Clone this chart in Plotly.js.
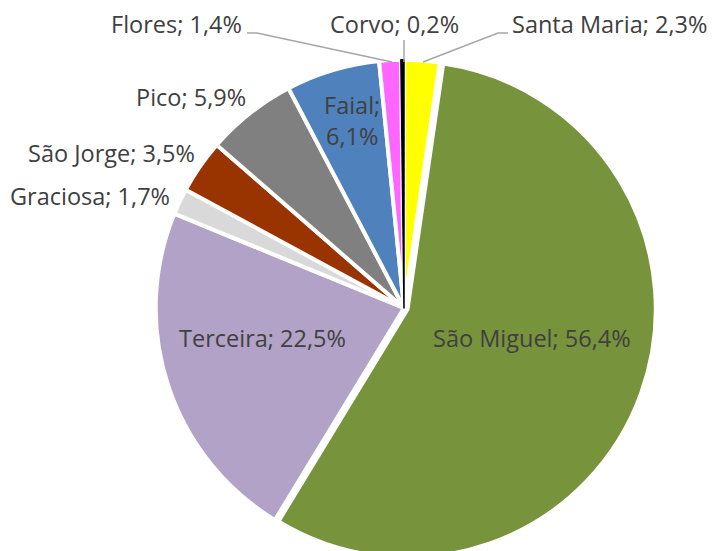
<!DOCTYPE html>
<html>
<head>
<meta charset="utf-8">
<script src="https://cdn.plot.ly/plotly-3.0.1.min.js"></script>
<style>
html,body{margin:0;padding:0;overflow:hidden;background:#fff;}
#chart{width:712px;height:560px;}
</style>
</head>
<body>
<div id="chart"></div>
<script>
// ---- data ----
const islands = ["Santa Maria", "São Miguel", "Terceira", "Graciosa", "São Jorge", "Pico", "Faial", "Flores", "Corvo"];
const shares  = [2.3, 56.4, 22.5, 1.7, 3.5, 5.9, 6.1, 1.4, 0.2];
const sliceColors = ["#FFFF00", "#77933C", "#B3A2C7", "#D9D9D9", "#993300", "#808080", "#4F81BD", "#FF66FF", "#000000"];

// ---- layout helpers ----
const W = 712, H = 560;
const px = x => x / W;
const py = y => 1 - y / H;
const fmt = v => v.toFixed(1).replace('.', ',') + '%';
const labelText = i => islands[i] + '; ' + fmt(shares[i]);

const lineColors = islands.map((_, i) => islands[i] === "Corvo" ? "#000000" : "#FFFFFF");
const lineWidths = islands.map((_, i) => islands[i] === "Corvo" ? 1.5 : 4);
const pulls = islands.map((_, i) => islands[i] === "São Miguel" ? 0.015 : 0);

const trace = {
  type: 'pie',
  labels: islands,
  values: shares,
  sort: false,
  direction: 'clockwise',
  rotation: 0,
  pull: pulls,
  textinfo: 'none',
  hoverinfo: 'label+percent',
  showlegend: false,
  marker: { colors: sliceColors, line: { color: lineColors, width: lineWidths } },
  domain: { x: [px(152), px(656)], y: [0, 504 / H] }
};

const font = { family: 'Open Sans, sans-serif', size: 23.5, color: '#404040' };

// label placements (pixel positions in the picture)
const place = {
  "Santa Maria": { x: 510, y: 24, xa: 'left' },
  "São Miguel":  { x: 532, y: 338, xa: 'center' },
  "Terceira":    { x: 262, y: 338, xa: 'center' },
  "Graciosa":    { x: 172, y: 196, xa: 'right' },
  "São Jorge":   { x: 197, y: 153, xa: 'right' },
  "Pico":        { x: 248, y: 97,  xa: 'right' },
  "Faial":       { x: 352, y: 120, xa: 'center', wrap: true },
  "Flores":      { x: 244, y: 24,  xa: 'right' },
  "Corvo":       { x: 394, y: 24,  xa: 'center' }
};

const annotations = islands.map((name, i) => {
  const p = place[name];
  const t = p.wrap ? name + ';<br>' + fmt(shares[i]) : labelText(i);
  return {
    x: px(p.x), y: py(p.y), xref: 'paper', yref: 'paper',
    xanchor: p.xa, yanchor: 'middle', showarrow: false,
    text: t, font: font, align: 'center'
  };
});

const path = pts => 'M ' + pts.map(p => px(p[0]) + ',' + py(p[1])).join(' L ');
const leader = pts => ({
  type: 'path', xref: 'paper', yref: 'paper', path: path(pts),
  line: { color: '#A6A6A6', width: 1.5 }
});
const shapes = [
  leader([[247, 33], [257, 33], [392, 62]]),
  leader([[404, 40], [404, 62]]),
  leader([[423, 62], [498, 33], [508, 33]])
];

const layout = {
  width: W, height: H,
  margin: { l: 0, r: 0, t: 0, b: 0 },
  paper_bgcolor: '#FFFFFF',
  annotations: annotations,
  shapes: shapes
};

Plotly.newPlot('chart', [trace], layout, { displayModeBar: false, staticPlot: true });
</script>
</body>
</html>
